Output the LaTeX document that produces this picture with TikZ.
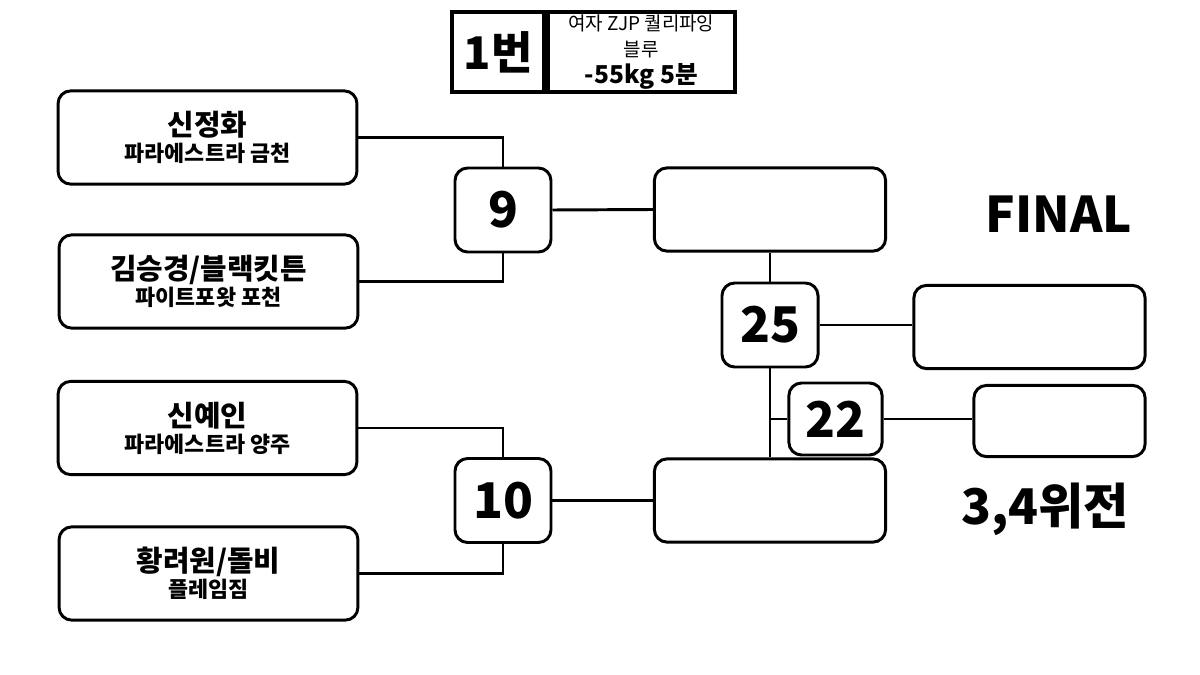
\documentclass[tikz,border=0pt]{standalone}
\usepackage{fontspec}
\setmainfont{Noto Sans CJK KR}
\usetikzlibrary{positioning}
\tikzset{
  box/.style={draw, rectangle, rounded corners=9pt, line width=2.1pt, fill=white, align=center, inner sep=0pt},
  player/.style={box, minimum width=7.47cm, minimum height=2.33cm, font=\fontsize{15.5}{18.6}\selectfont\bfseries},
  bout/.style={box, minimum width=2.4cm, minimum height=2.1cm, font=\fontsize{35}{35}\selectfont\bfseries},
  slot/.style={box, minimum width=5.78cm, minimum height=2.08cm},
  cell/.style={draw, rectangle, line width=2.6pt, minimum height=2cm, align=center, inner sep=0pt},
  wire/.style={line width=2.1pt},
  head/.style={font=\fontsize{35}{35}\selectfont\bfseries}
}
\newcommand{\entrant}[2]{{\fontsize{20.5}{18.6}\selectfont #1}\\#2}

\begin{document}
\begin{tikzpicture}[x=0.025cm, y=-0.025cm]
\fill[white] (0,0) rectangle (1200,675);
\useasboundingbox (0,0) rectangle (1200,675);
\node[cell, minimum width=2.3cm, font=\fontsize{32}{32}\selectfont\bfseries] (num) at (498,52) {1번};
\node[cell, minimum width=4.68cm, right=0pt of num, font=\fontsize{13.5}{15.6}\selectfont] (info) {여자 ZJP 퀄리파잉\\[2.5pt]블루\\[3.5pt]{\fontsize{17.5}{17}\selectfont\bfseries -55kg 5분}};
\node[player] (p1) at (207.5,137.5) {\entrant{신정화}{파라에스트라 금천}};
\node[player] (p2) at (208.5,281.5) {\entrant{김승경/블랙킷튼}{파이트포왓 포천}};
\node[player] (p3) at (207.5,428) {\entrant{신예인}{파라에스트라 양주}};
\node[player] (p4) at (208.5,573.5) {\entrant{황려원/돌비}{플레임짐}};
\node[bout] (m9) at (503,210) {9};
\node[bout] (m10) at (503,500.5) {10};
\node[slot] (w9) at (770,209.5) {};
\node[slot] (w10) at (770,500.5) {};
\node[bout] (m25) at (770,325) {25};
\node[bout, minimum width=2.33cm, minimum height=1.8cm] (m22) at (835.5,419) {22};
\node[slot] (fin) at (1029.5,327) {};
\node[box, minimum width=4.28cm, minimum height=1.78cm] (third) at (1059.5,421) {};
\node[head] (finlbl) at (1059,214) {FINAL};
\node[head] (thirdlbl) at (1045,509) {3,4위전};
\coordinate (split) at (m25.south |- m22.west);
\draw[wire] (p1.east) -| (m9.north);
\draw[wire] (p2.east) -| (m9.south);
\draw[wire] (p3.east) -| (m10.north);
\draw[wire] (p4.east) -| (m10.south);
\foreach \s/\t in {m9.east/w9.west,m10.east/w10.west,w9.south/m25.north,m25.south/w10.north,split/m22.west}
  \draw[wire] (\s) -- (\t);
\draw[wire] (m25.east) -- (m25.east -| fin.west);
\draw[wire] (m22.east) -- (m22.east -| third.west);
\end{tikzpicture}
\end{document}
